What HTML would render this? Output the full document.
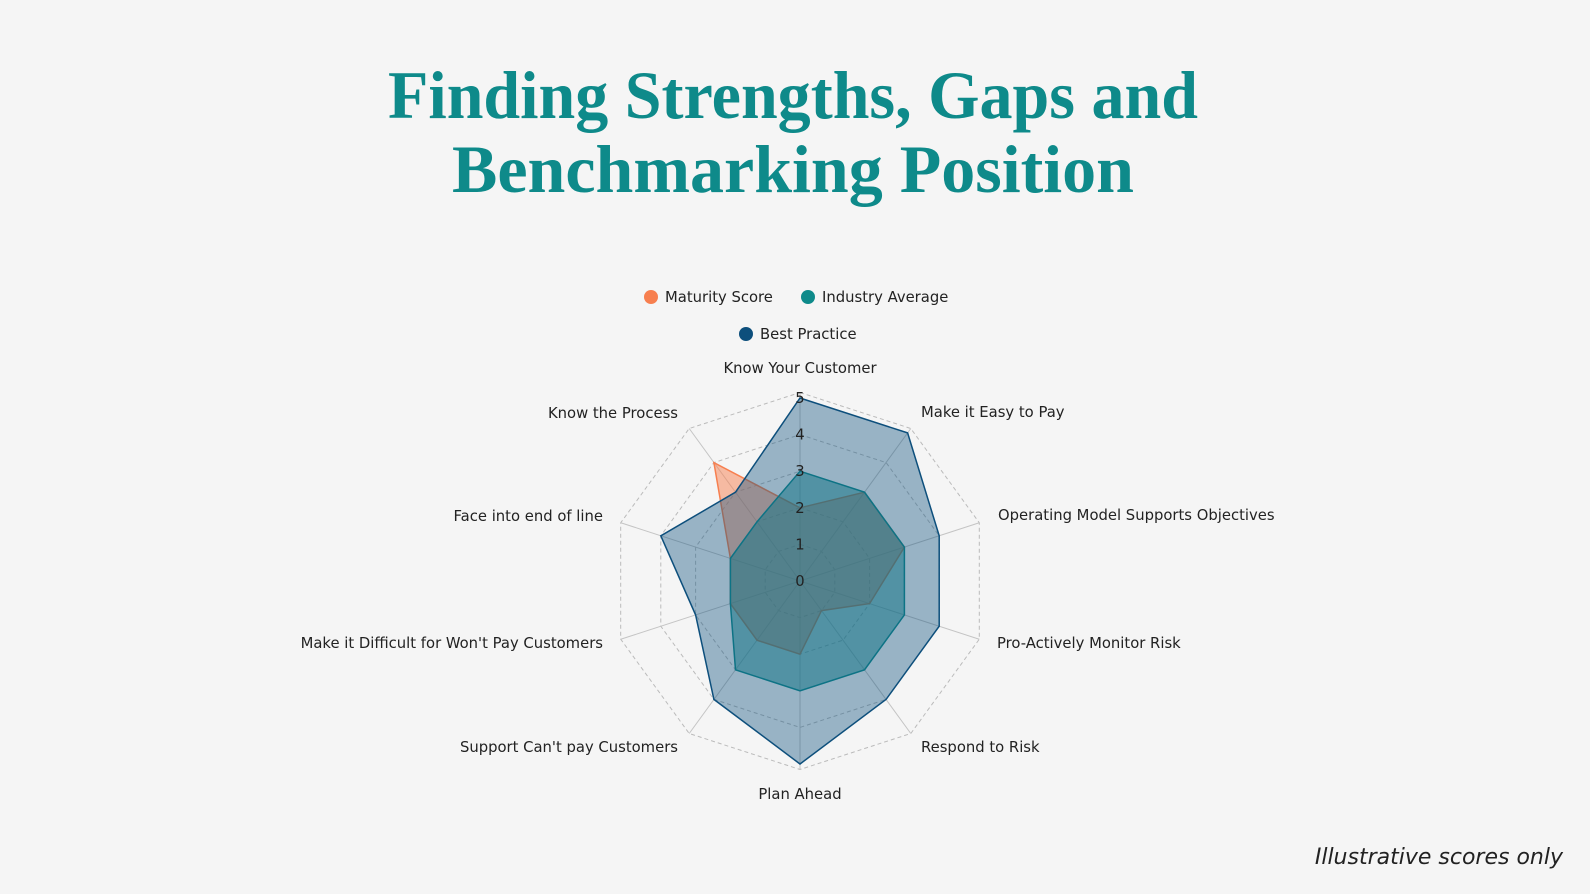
<!DOCTYPE html>
<html><head><meta charset="utf-8"><style>
html,body{margin:0;padding:0;background:#f5f5f5;}
svg{display:block;}
</style></head><body>
<svg id="s" width="1590" height="894" xmlns="http://www.w3.org/2000/svg" font-family="DejaVu Sans, sans-serif">
<rect width="1590" height="894" fill="#f5f5f5"/>
<g font-family="Liberation Serif, serif" font-weight="bold" fill="#0e8a8a" font-size="68" text-anchor="middle">
<text x="793" y="118" textLength="810" lengthAdjust="spacingAndGlyphs">Finding Strengths, Gaps and</text>
<text x="793" y="192" textLength="682" lengthAdjust="spacingAndGlyphs">Benchmarking Position</text>
</g>
<g font-size="14.8" fill="#222">
<circle cx="651" cy="297" r="7" fill="#f77f4f"/><text x="665" y="302">Maturity Score</text>
<circle cx="808" cy="297" r="7" fill="#0e8a8a"/><text x="822" y="302">Industry Average</text>
<circle cx="746" cy="334" r="7" fill="#0d4f7c"/><text x="760" y="339">Best Practice</text>
</g>
<g id="chart"></g>
<g font-size="14.8" fill="#222">
<text x="800" y="373" text-anchor="middle">Know Your Customer</text>
<text x="921" y="417">Make it Easy to Pay</text>
<text x="998" y="520">Operating Model Supports Objectives</text>
<text x="997" y="648">Pro-Actively Monitor Risk</text>
<text x="921" y="752">Respond to Risk</text>
<text x="800" y="799" text-anchor="middle">Plan Ahead</text>
<text x="678" y="752" text-anchor="end">Support Can't pay Customers</text>
<text x="603" y="648" text-anchor="end">Make it Difficult for Won't Pay Customers</text>
<text x="603" y="521" text-anchor="end">Face into end of line</text>
<text x="678" y="418" text-anchor="end">Know the Process</text>
</g>
<text x="1563" y="864" text-anchor="end" font-size="22" font-style="italic" fill="#222">Illustrative scores only</text>
</svg>
<script>
var cx=800,cy=581,u=36.6,ns="http://www.w3.org/2000/svg";
var g=document.getElementById('chart');
function pt(i,r){var a=i*Math.PI/5;return [cx+r*u*Math.sin(a),cy-r*u*Math.cos(a)];}
function poly(vals){return vals.map(function(v,i){return pt(i,v).map(function(n){return n.toFixed(1)}).join(',')}).join(' ');}
function add(tag,attrs,txt){var e=document.createElementNS(ns,tag);for(var k in attrs)e.setAttribute(k,attrs[k]);if(txt!==undefined)e.textContent=txt;g.appendChild(e);return e;}
var R=5.15;
[1,2,3,4,R].forEach(function(r){add('polygon',{points:poly([r,r,r,r,r,r,r,r,r,r]),fill:'none',stroke:'#bbb','stroke-dasharray':'4,3','stroke-width':1});});
for(var i=0;i<10;i++){var p=pt(i,R);add('line',{x1:cx,y1:cy,x2:p[0],y2:p[1],stroke:'#c4c4c4','stroke-width':1});}
add('polygon',{points:poly([2,3,3,2,1,2,2,2,2,4]),fill:'rgba(247,127,79,0.5)',stroke:'#f77f4f','stroke-width':1.5});
add('polygon',{points:poly([3,3,3,3,3,3,3,2,2,2]),fill:'rgba(14,138,138,0.5)',stroke:'#0e8a8a','stroke-width':1.5});
add('polygon',{points:poly([5,5,4,4,4,5,4,3,4,3]),fill:'rgba(13,79,124,0.4)',stroke:'#0d4f7c','stroke-width':1.5});
for(var t=0;t<=5;t++){add('text',{x:cx,y:(cy-t*u+5).toFixed(1),'text-anchor':'middle','font-size':14.8,fill:'#222'},String(t));}
</script>
</body></html>
